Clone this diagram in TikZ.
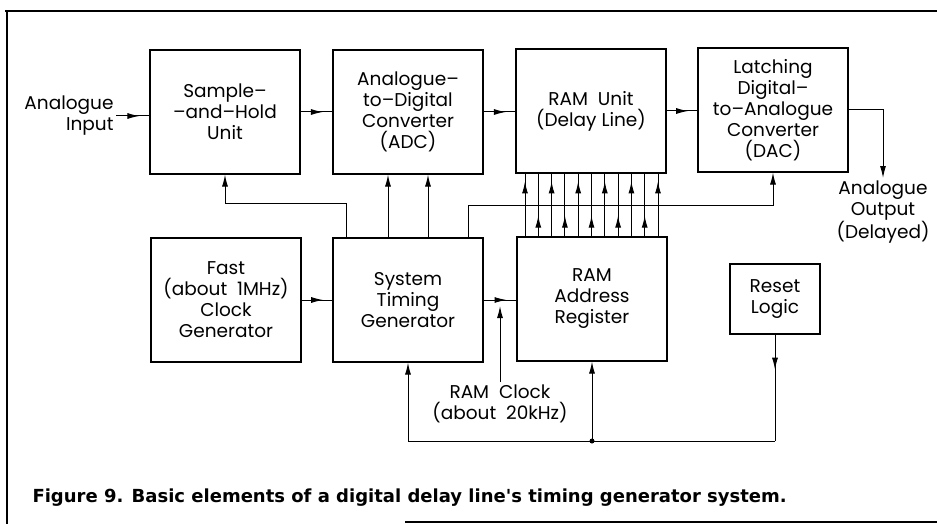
\documentclass[tikz,border=0pt]{standalone}
\usepackage{fontspec}
\setmainfont{Poppins}
\newfontfamily\capfont{DejaVu Sans}
\usetikzlibrary{arrows.meta,positioning,decorations.markings}

\begin{document}
\begin{tikzpicture}[x=1pt,y=-1pt,line width=1pt,
  font=\fontsize{18.5}{21}\selectfont,
  blk/.style={draw,line width=1.2pt,minimum width=150pt,minimum height=124pt,align=center,inner sep=0pt},
  lbl/.style={align=center,inner sep=2pt},
  arr/.style={-{Latex[length=12pt,width=6pt]}},
  midarrow/.style={decoration={markings,mark=at position #1 with {\arrow{Latex[length=12pt,width=6pt]}}},postaction={decorate}},
  midarrow/.default=0.7]
\useasboundingbox (0,0) rectangle (937,524);
\draw[line width=2.5pt] (5,11) -- (937,11);
\draw[line width=2.5pt] (7,11) -- (7,524);
\draw[line width=2.5pt] (405,522) -- (937,522);
\node[blk] (sh) at (225,112) {Sample--\\--and--Hold\\Unit};
\node[blk] (adc) at (408,112) {Analogue--\\to--Digital\\Converter\\(ADC)};
\node[blk] (ram) at (591,111) {RAM\ \ Unit\\(Delay Line)};
\node[blk] (dac) at (773,110) {Latching\\Digital--\\to--Analogue\\Converter\\(DAC)};
\node[blk] (clk) at (226,300) {Fast\\(about\ \ 1MHz)\\Clock\\Generator};
\node[blk] (stg) at (408,300) {System\\Timing\\Generator};
\node[blk] (addr) at (592,299) {RAM\\Address\\Register};
\node[blk,minimum width=90pt,minimum height=70pt] (reset) at (775,299) {Reset\\Logic};
\node[lbl,align=right,anchor=east] (ain) at (116,116) {Analogue\\Input};
\node[lbl,anchor=north] (aout) at (883,178) {Analogue\\Output\\(Delayed)};
\node[lbl,anchor=north] (rclk) at (500,382) {RAM\ \ Clock\\(about\ \ 20kHz)};
\node[anchor=west,inner sep=0pt,font=\capfont\bfseries\fontsize{18}{20}\selectfont] (cap) at (32,498) {Figure 9. Basic elements of a digital delay line's timing generator system.};
\draw[midarrow] (ain.east) -- (ain.east -| sh.west);
\draw[midarrow] (sh.east) -- (adc.west);
\draw[midarrow] (adc.east) -- (adc.east -| ram.west);
\draw[midarrow] (ram.east) -- (ram.east -| dac.west);
\draw[arr] (dac.east) -| (aout.north);
\draw[midarrow] (clk.east) -- (stg.west);
\draw[midarrow] (stg.east) -- (stg.east -| addr.west);
\draw[arr] ([xshift=-20pt]stg.north) -- ([xshift=-20pt]stg.north |- adc.south);
\draw[arr] ([xshift=20pt]stg.north) -- ([xshift=20pt]stg.north |- adc.south);
\draw[arr] ([xshift=14pt]stg.north west) -- ++(0,-34) -| (sh.south);
\draw[arr] ([xshift=-15pt]stg.north east) -- ++(0,-32) -| (dac.south);
\foreach \i in {0,...,10} {
  \pgfmathsetmacro{\xx}{525+13.3*\i}
  \pgfmathsetmacro{\pos}{isodd(\i) ? 0.33 : 0.875}
  \draw[midarrow=\pos] (\xx,0 |- addr.north) -- (\xx,0 |- ram.south);
}
\draw[arr,shorten >=6pt] (rclk.north) -- (rclk.north |- stg.east);
\coordinate (rc) at (775,441);
\coordinate (jn) at (addr.south |- rc);
\draw[midarrow=0.33] (reset.south) -- (rc);
\draw (rc) -- (jn);
\draw[arr] (jn) -| (stg.south);
\draw[arr] (jn) -- (addr.south);
\fill (jn) circle (2.5pt);
\end{tikzpicture}
\end{document}
